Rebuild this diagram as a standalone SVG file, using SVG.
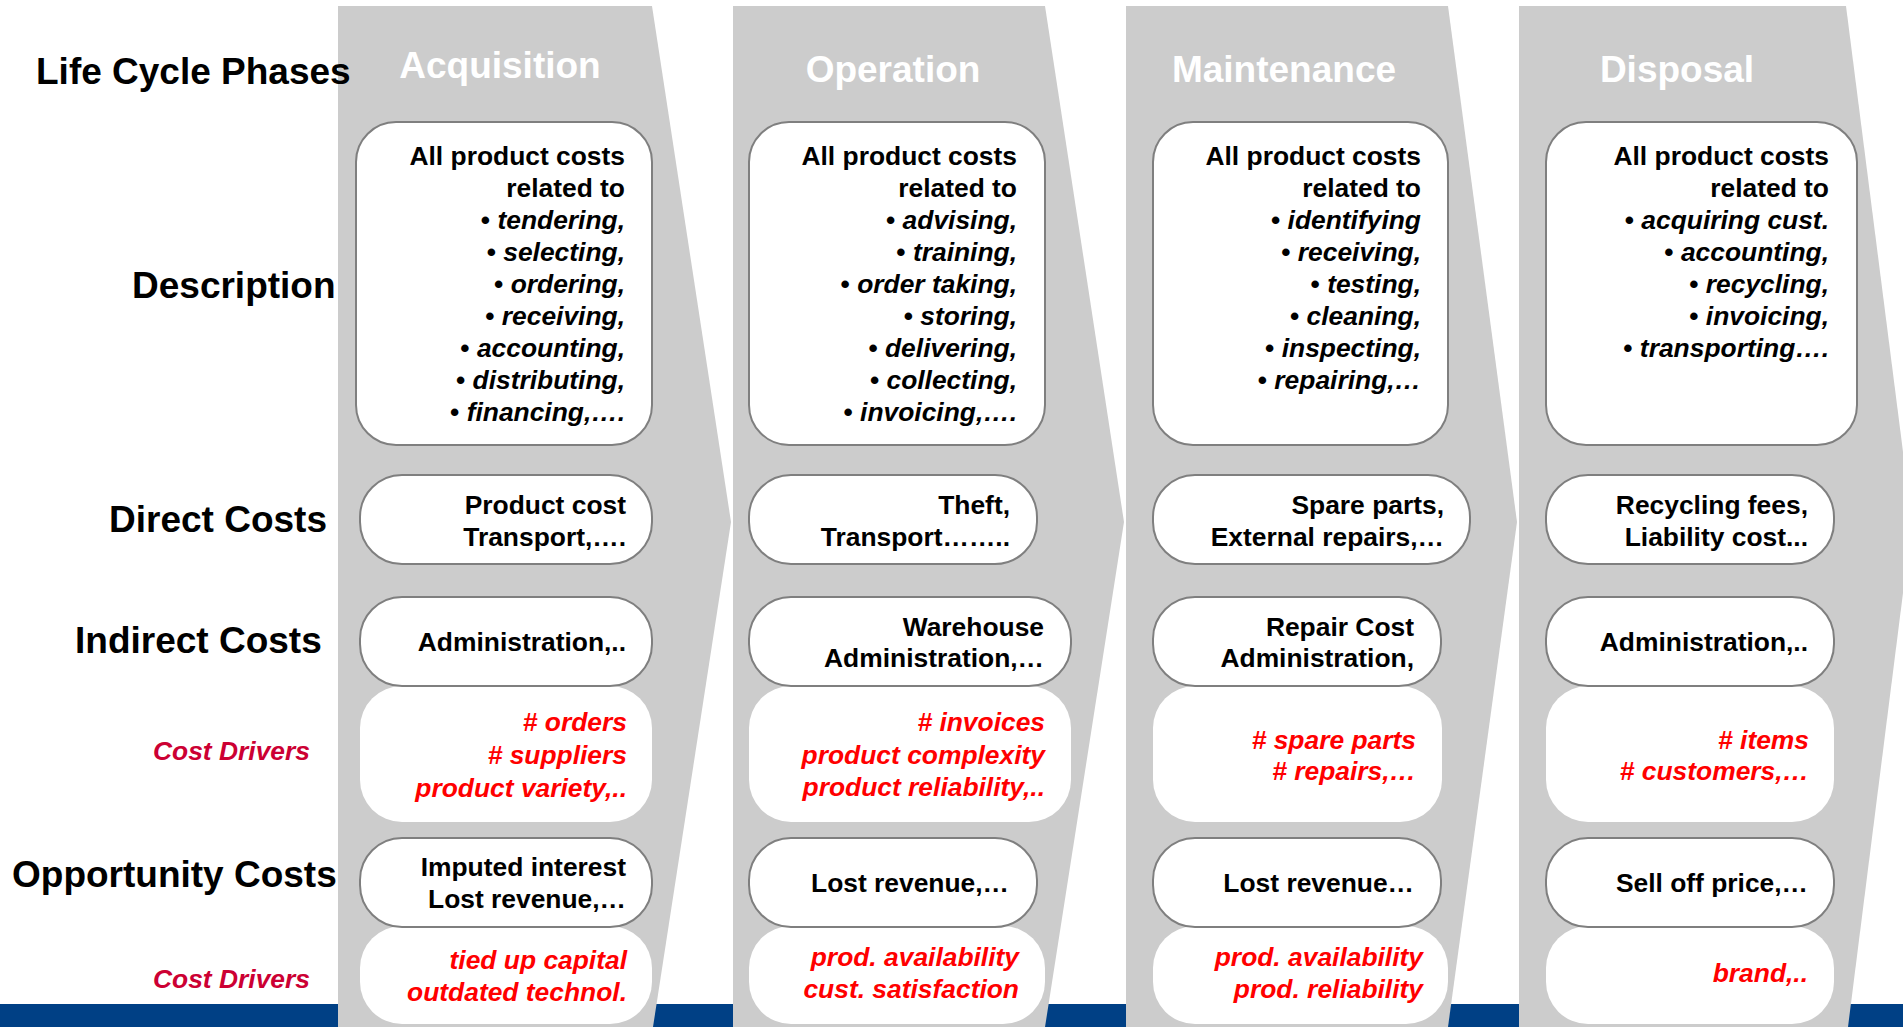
<svg xmlns="http://www.w3.org/2000/svg" width="1903" height="1027" viewBox="0 0 1903 1027">
<style>
text{font-family:"Liberation Sans",Arial,sans-serif;font-weight:bold}
.lbl{font-size:37px;fill:#000}
.hdr{font-size:37px;fill:#fff;text-anchor:middle}
.t{font-size:26.4px;fill:#000;text-anchor:end}
.it{font-style:italic}
.red{font-size:26.4px;fill:#ff0000;font-style:italic;text-anchor:end}
.cd{font-size:26.4px;fill:#cc0033;font-style:italic}
.chev{fill:#cccccc}
.box{fill:#fff;stroke:#7f7f7f;stroke-width:2}
.drv{fill:#fff}
</style>
<rect x="0" y="1004" width="1903" height="23" fill="#004085"/>
<g id="acquisition">
<polygon class="chev" points="338,6 652,6 731,522 653,1027 338,1027"/>
<text class="hdr" x="500" y="78">Acquisition</text>
<g id="acq-desc"><rect class="box" x="356" y="122" width="296" height="323" rx="40"/>
<text class="t" x="625" y="165">All product costs</text>
<text class="t" x="625" y="197">related to</text>
<text class="t" x="625" y="229">• <tspan class="it">tendering,</tspan></text>
<text class="t" x="625" y="261">• <tspan class="it">selecting,</tspan></text>
<text class="t" x="625" y="293">• <tspan class="it">ordering,</tspan></text>
<text class="t" x="625" y="325">• <tspan class="it">receiving,</tspan></text>
<text class="t" x="625" y="357">• <tspan class="it">accounting,</tspan></text>
<text class="t" x="625" y="389">• <tspan class="it">distributing,</tspan></text>
<text class="t" x="625" y="421">• <tspan class="it">financing,….</tspan></text></g>
<g id="acq-direct"><rect class="box" x="360" y="475" width="292" height="89" rx="42"/>
<text class="t" x="626" y="514">Product cost</text>
<text class="t" x="626" y="546">Transport,….</text></g>
<g id="acq-drivers"><rect class="drv" x="360" y="686" width="292" height="136" rx="42"/>
<text class="red" x="627" y="731"># orders</text>
<text class="red" x="627" y="764"># suppliers</text>
<text class="red" x="627" y="797">product variety,..</text></g>
<g id="acq-indirect"><rect class="box" x="360" y="597" width="292" height="89" rx="42"/>
<text class="t" x="626" y="651">Administration,..</text></g>
<g id="acq-drivers2"><rect class="drv" x="360" y="926" width="292" height="98" rx="42"/>
<text class="red" x="627" y="969">tied up capital</text>
<text class="red" x="627" y="1001">outdated technol.</text></g>
<g id="acq-opp"><rect class="box" x="360" y="838" width="292" height="89" rx="42"/>
<text class="t" x="626" y="876">Imputed interest</text>
<text class="t" x="626" y="908">Lost revenue,…</text></g>
</g>
<g id="operation">
<polygon class="chev" points="733,6 1045,6 1124,522 1045,1027 733,1027"/>
<text class="hdr" x="893" y="82">Operation</text>
<g id="op-desc"><rect class="box" x="749" y="122" width="296" height="323" rx="40"/>
<text class="t" x="1017" y="165">All product costs</text>
<text class="t" x="1017" y="197">related to</text>
<text class="t" x="1017" y="229">• <tspan class="it">advising,</tspan></text>
<text class="t" x="1017" y="261">• <tspan class="it">training,</tspan></text>
<text class="t" x="1017" y="293">• <tspan class="it">order taking,</tspan></text>
<text class="t" x="1017" y="325">• <tspan class="it">storing,</tspan></text>
<text class="t" x="1017" y="357">• <tspan class="it">delivering,</tspan></text>
<text class="t" x="1017" y="389">• <tspan class="it">collecting,</tspan></text>
<text class="t" x="1017" y="421">• <tspan class="it">invoicing,….</tspan></text></g>
<g id="op-direct"><rect class="box" x="749" y="475" width="288" height="89" rx="42"/>
<text class="t" x="1010" y="514">Theft,</text>
<text class="t" x="1010" y="546">Transport……..</text></g>
<g id="op-drivers"><rect class="drv" x="749" y="686" width="322" height="136" rx="42"/>
<text class="red" x="1045" y="731"># invoices</text>
<text class="red" x="1045" y="764">product complexity</text>
<text class="red" x="1045" y="796">product reliability,..</text></g>
<g id="op-indirect"><rect class="box" x="749" y="597" width="322" height="89" rx="42"/>
<text class="t" x="1044" y="636">Warehouse</text>
<text class="t" x="1044" y="667">Administration,…</text></g>
<g id="op-drivers2"><rect class="drv" x="749" y="926" width="296" height="98" rx="42"/>
<text class="red" x="1019" y="966">prod. availability</text>
<text class="red" x="1019" y="998">cust. satisfaction</text></g>
<g id="op-opp"><rect class="box" x="749" y="838" width="288" height="89" rx="42"/>
<text class="t" x="1009" y="892">Lost revenue,…</text></g>
</g>
<g id="maintenance">
<polygon class="chev" points="1126,6 1448,6 1517,522 1448,1027 1126,1027"/>
<text class="hdr" x="1284" y="82">Maintenance</text>
<g id="mt-desc"><rect class="box" x="1153" y="122" width="295" height="323" rx="40"/>
<text class="t" x="1421" y="165">All product costs</text>
<text class="t" x="1421" y="197">related to</text>
<text class="t" x="1421" y="229">• <tspan class="it">identifying</tspan></text>
<text class="t" x="1421" y="261">• <tspan class="it">receiving,</tspan></text>
<text class="t" x="1421" y="293">• <tspan class="it">testing,</tspan></text>
<text class="t" x="1421" y="325">• <tspan class="it">cleaning,</tspan></text>
<text class="t" x="1421" y="357">• <tspan class="it">inspecting,</tspan></text>
<text class="t" x="1421" y="389">• <tspan class="it">repairing,…</tspan></text></g>
<g id="mt-direct"><rect class="box" x="1153" y="475" width="317" height="89" rx="42"/>
<text class="t" x="1444" y="514">Spare parts,</text>
<text class="t" x="1444" y="546">External repairs,…</text></g>
<g id="mt-drivers"><rect class="drv" x="1153" y="686" width="289" height="136" rx="42"/>
<text class="red" x="1416" y="749"># spare parts</text>
<text class="red" x="1416" y="780"># repairs,…</text></g>
<g id="mt-indirect"><rect class="box" x="1153" y="597" width="288" height="89" rx="42"/>
<text class="t" x="1414" y="636">Repair Cost</text>
<text class="t" x="1414" y="667">Administration,</text></g>
<g id="mt-drivers2"><rect class="drv" x="1153" y="926" width="295" height="98" rx="42"/>
<text class="red" x="1423" y="966">prod. availability</text>
<text class="red" x="1423" y="998">prod. reliability</text></g>
<g id="mt-opp"><rect class="box" x="1153" y="838" width="288" height="89" rx="42"/>
<text class="t" x="1414" y="892">Lost revenue…</text></g>
</g>
<g id="disposal">
<polygon class="chev" points="1519,6 1846,6 1912,522 1848,1027 1519,1027"/>
<text class="hdr" x="1677" y="82">Disposal</text>
<g id="dp-desc"><rect class="box" x="1546" y="122" width="311" height="323" rx="40"/>
<text class="t" x="1829" y="165">All product costs</text>
<text class="t" x="1829" y="197">related to</text>
<text class="t" x="1829" y="229">• <tspan class="it">acquiring cust.</tspan></text>
<text class="t" x="1829" y="261">• <tspan class="it">accounting,</tspan></text>
<text class="t" x="1829" y="293">• <tspan class="it">recycling,</tspan></text>
<text class="t" x="1829" y="325">• <tspan class="it">invoicing,</tspan></text>
<text class="t" x="1829" y="357">• <tspan class="it">transporting….</tspan></text></g>
<g id="dp-direct"><rect class="box" x="1546" y="475" width="288" height="89" rx="42"/>
<text class="t" x="1808" y="514">Recycling fees,</text>
<text class="t" x="1808" y="546">Liability cost...</text></g>
<g id="dp-drivers"><rect class="drv" x="1546" y="686" width="288" height="136" rx="42"/>
<text class="red" x="1809" y="749"># items</text>
<text class="red" x="1809" y="780"># customers,…</text></g>
<g id="dp-indirect"><rect class="box" x="1546" y="597" width="288" height="89" rx="42"/>
<text class="t" x="1808" y="651">Administration,..</text></g>
<g id="dp-drivers2"><rect class="drv" x="1546" y="926" width="288" height="98" rx="42"/>
<text class="red" x="1808" y="982">brand,..</text></g>
<g id="dp-opp"><rect class="box" x="1546" y="838" width="288" height="89" rx="42"/>
<text class="t" x="1808" y="892">Sell off price,…</text></g>
</g>
<g id="labels">
<text class="lbl" x="36" y="84">Life Cycle Phases</text>
<text class="lbl" x="132" y="298">Description</text>
<text class="lbl" x="109" y="532">Direct Costs</text>
<text class="lbl" x="75" y="653">Indirect Costs</text>
<text class="cd" x="153" y="760">Cost Drivers</text>
<text class="lbl" x="12" y="887">Opportunity Costs</text>
<text class="cd" x="153" y="988">Cost Drivers</text>
</g>
<g id="connectors"/>
</svg>
